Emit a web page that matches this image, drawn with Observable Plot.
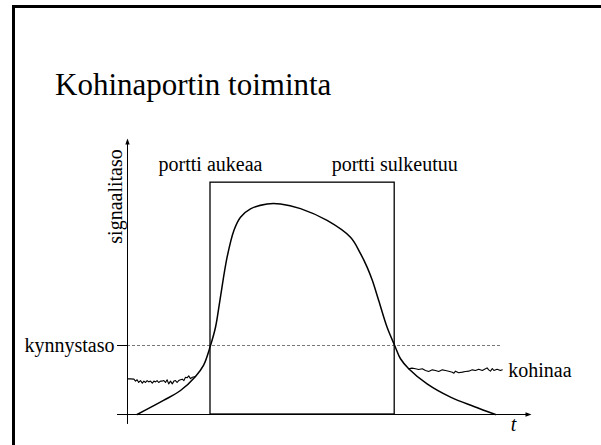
<!DOCTYPE html>
<html><head><meta charset="utf-8">
<script src="https://cdn.jsdelivr.net/npm/d3@7"></script>
<script src="https://cdn.jsdelivr.net/npm/@observablehq/plot@0.6"></script>
<style>
html,body{margin:0;padding:0;background:#fff;}
#wrap{position:relative;width:601px;height:445px;overflow:hidden;background:#fff;}
#chart{position:absolute;left:0;top:0;}
#frame{position:absolute;left:12px;top:5px;width:700px;height:600px;border-top:3px solid #000;border-left:3px solid #000;box-sizing:border-box;pointer-events:none;}
#title{position:absolute;left:55px;top:69px;margin:0;font-family:"Liberation Serif","Times New Roman",serif;font-size:31px;font-weight:normal;line-height:1;color:#000;white-space:nowrap;}
</style>
</head><body>
<div id="wrap">
  <div id="chart"></div>
  <div id="frame"></div>
  <h1 id="title">Kohinaportin toiminta</h1>
</div>
<script>
// Signal envelope (time units, level units)
const signalT = [2.4, 9, 13.25, 17, 19, 20.75, 22, 23.1, 24.9, 26.6, 28.25, 30.75, 34.9, 38.25, 43.25, 49.9, 55.75, 58.25, 59.9, 61.2, 62.8, 64.9, 66.8, 68.25, 70.3, 74.9, 80.75, 86.6, 92];
const signalLevel = [0, 5.1, 8.7, 13.8, 17.8, 25, 31.6, 41.3, 57, 66.7, 71.5, 74.5, 76.3, 76.3, 74.6, 70.3, 64.2, 58.3, 53.4, 48.6, 41.3, 31.6, 25, 20.2, 16.6, 11.1, 6.3, 2.9, 0];

// Noise before the signal
const noiseLeftT = [0, 0.75, 1.6, 2, 2.4, 2.8, 3.25, 3.7, 4.1, 4.5, 4.9, 5.3, 5.75, 6.2, 6.6, 7, 7.4, 7.8, 8.25, 8.7, 9.1, 9.5, 9.9, 10.3, 10.75, 11.2, 11.6, 12, 12.4, 12.8, 13.25, 13.7, 14.1, 14.5, 14.9, 15.3, 15.75, 16.2, 17];
const noiseLeftLevel = [12.9, 12.9, 12.8, 12.1, 12.6, 11.6, 12.3, 11.35, 12.1, 11.6, 12.3, 11.8, 12.1, 11.35, 12.1, 11.8, 12.3, 11.6, 12.1, 12.1, 12.3, 11.6, 12.6, 11.1, 12.1, 11.1, 12.1, 12.3, 11.6, 12.3, 12.6, 12.8, 12.3, 13.5, 13.3, 14.0, 13.0, 13.5, 13.8];

// Noise after the signal
const noiseRightT = [70.3, 71.1, 72, 72.8, 73.7, 74.5, 75.3, 76.2, 77, 77.8, 78.7, 79.5, 80.3, 81.2, 81.6, 82, 82.8, 83.7, 84.5, 85.3, 86.2, 87, 87.8, 88.7, 89.5, 89.9, 90.3, 90.75, 91.2, 91.6, 92.4, 93.25, 93.7];
const noiseRightLevel = [16.55, 16.8, 16.55, 16.3, 16.55, 15.94, 15.58, 16.18, 15.94, 15.58, 16.18, 15.94, 15.7, 15.34, 14.97, 15.7, 15.1, 15.34, 15.58, 15.7, 16.18, 15.94, 16.4, 15.94, 16.55, 16.9, 16.18, 15.7, 16.67, 15.94, 16.4, 15.94, 16.18];

// Gate and threshold
const threshold = 25;
const gateOpen = 20.75;
const gateClose = 66.8;
const gateTop = 84;
const thresholdEnd = 93.25;

// Axis extent
const tMin = -2.5, tMax = 101;
const levelMin = -3.6, levelMax = 100;

// Text labels
const yLabel = "signaalitaso";
const xLabel = "t";
const thresholdLabel = "kynnystaso";
const noiseLabel = "kohinaa";
const openLabel = "portti aukeaa";
const closeLabel = "portti sulkeutuu";

const signal = signalT.map((t, i) => ({t, level: signalLevel[i]}));
const noiseL = noiseLeftT.map((t, i) => ({t, level: noiseLeftLevel[i]}));
const noiseR = noiseRightT.map((t, i) => ({t, level: noiseRightLevel[i]}));

const headRight = {draw(ctx) { ctx.moveTo(0, 0); ctx.lineTo(-6, -2.2); ctx.lineTo(-6, 2.2); ctx.closePath(); }};
const headUp = {draw(ctx) { ctx.moveTo(0, 0); ctx.lineTo(-2.2, 6); ctx.lineTo(2.2, 6); ctx.closePath(); }};

const serif = "'Liberation Serif','Times New Roman',serif";

const chart = Plot.plot({
  width: 601,
  height: 445,
  margin: 0,
  x: {domain: [0, 101], range: [127, 531], axis: null},
  y: {domain: [0, 100], range: [414, 138], axis: null},
  style: {fontFamily: serif, fontSize: "20px", background: "transparent", color: "#000"},
  marks: [
    // threshold
    Plot.ruleY([threshold], {x1: 0, x2: thresholdEnd, stroke: "#555", strokeWidth: 0.8, strokeDasharray: "3,2"}),
    Plot.ruleY([threshold], {x1: tMin, x2: 0, stroke: "#000", strokeWidth: 1}),
    // axes
    Plot.ruleY([0], {x1: tMin, x2: tMax - 1, stroke: "#000", strokeWidth: 1}),
    Plot.ruleX([0], {y1: levelMin, y2: levelMax - 1, stroke: "#000", strokeWidth: 1}),
    Plot.dot([{t: tMax, level: 0}], {x: "t", y: "level", symbol: headRight, fill: "#000", stroke: "none", r: 3}),
    Plot.dot([{t: 0, level: levelMax}], {x: "t", y: "level", symbol: headUp, fill: "#000", stroke: "none", r: 3}),
    // gate
    Plot.rect([{x1: gateOpen, x2: gateClose, y1: 0, y2: gateTop}], {x1: "x1", x2: "x2", y1: "y1", y2: "y2", fill: "none", stroke: "#000", strokeWidth: 1.3}),
    // noise
    Plot.line(noiseL, {x: "t", y: "level", stroke: "#000", strokeWidth: 1.1}),
    Plot.line(noiseR, {x: "t", y: "level", stroke: "#000", strokeWidth: 1.1}),
    // signal
    Plot.line(signal, {x: "t", y: "level", curve: "catmull-rom", stroke: "#000", strokeWidth: 1.5}),
    // labels
    Plot.text([openLabel], {x: gateOpen, y: gateTop, dy: -12, text: d => d, textAnchor: "middle", lineAnchor: "bottom", fill: "#000"}),
    Plot.text([closeLabel], {x: gateClose, y: gateTop, dy: -12, text: d => d, textAnchor: "middle", lineAnchor: "bottom", fill: "#000"}),
    Plot.text([thresholdLabel], {x: tMin, y: threshold, dx: -3, text: d => d, textAnchor: "end", lineAnchor: "middle", fill: "#000"}),
    Plot.text([noiseLabel], {x: noiseRightT[noiseRightT.length - 1], y: noiseRightLevel[noiseRightLevel.length - 1], dx: 6, dy: 1, text: d => d, textAnchor: "start", lineAnchor: "middle", fill: "#000"}),
    Plot.text([xLabel], {x: tMax, y: 0, dx: -18, dy: 16, text: d => d, textAnchor: "middle", lineAnchor: "bottom", fontStyle: "italic", fill: "#000"}),
    Plot.text([yLabel], {x: 0, y: 79, dx: -6, text: d => d, rotate: -90, textAnchor: "middle", lineAnchor: "bottom", fill: "#000"})
  ]
});
document.getElementById("chart").appendChild(chart);
</script>
</body></html>
